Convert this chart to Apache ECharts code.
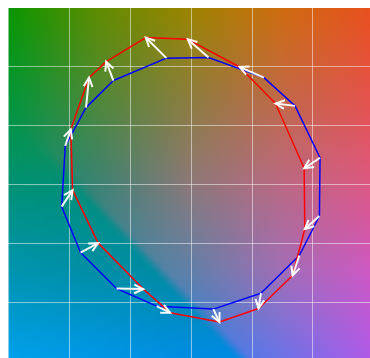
<!DOCTYPE html>
<html><head><meta charset="utf-8">
<script src="https://cdn.jsdelivr.net/npm/echarts@6/dist/echarts.min.js"></script>
<style>html,body{margin:0;padding:0;background:#fff}#c{width:370px;height:358px}</style>
</head><body><div id="c"></div>
<script>
// Blue contour (start points of arrows)
const blueX = [260, 329, 420, 471, 512, 511, 478, 415, 337, 244, 178, 119, 88, 94, 128, 173];
const blueY = [86, 85, 119, 167, 255, 354, 421, 485, 512, 507, 477, 416, 338, 235, 170, 124];
// Red contour (end points of arrows)
const redX = [226, 295, 380, 439, 486, 487, 467, 411, 347, 266, 222, 148, 106, 103, 133, 161];
const redY = [51, 54, 101, 163, 273, 376, 455, 511, 534, 518, 478, 400, 310, 207, 119, 92];
const xMax = 594, yMax = 595, tickStep = 100;

// background colour controls (5x5, rows top->bottom, cols left->right)
const bgMain = [
  [[10,150,0],[95,140,0],[155,132,0],[205,108,15],[232,80,30]],
  [[0,150,55],[80,136,55],[140,125,60],[192,105,70],[228,82,75]],
  [[0,145,115],[60,130,115],[140,120,120],[185,105,130],[220,88,130]],
  [[40,138,160],[55,135,162],[95,128,168],[160,110,182],[205,88,195]],
  [[20,134,228],[30,133,228],[45,130,228],[105,115,232],[175,90,232]]
];
const bgLeft = [
  bgMain[0], bgMain[1],
  [[0,145,115],[0,142,120],[0,140,125],[0,138,128],[0,136,130]],
  [[0,148,175],[0,142,165],[0,138,160],[0,135,162],[0,132,165]],
  [[0,160,235],[0,150,232],[0,140,228],[0,135,228],[0,130,228]]
];

function sample(g, u, v) {
  const gx = u * 4, gy = v * 4;
  const i = Math.min(Math.floor(gx), 3), j = Math.min(Math.floor(gy), 3);
  const fx = gx - i, fy = gy - j;
  const out = [0,0,0];
  for (let k = 0; k < 3; k++) {
    const a = g[j][i][k] * (1 - fx) + g[j][i+1][k] * fx;
    const b = g[j+1][i][k] * (1 - fx) + g[j+1][i+1][k] * fx;
    out[k] = a * (1 - fy) + b * fy;
  }
  return out;
}
const W = 362, H = 351;
const cv = document.createElement('canvas');
cv.width = W; cv.height = H;
const cx = cv.getContext('2d');
const img = cx.createImageData(W, H);
const nx = 175, ny = -167, nn = Math.hypot(nx, ny);
for (let y = 0; y < H; y++) {
  for (let x = 0; x < W; x++) {
    const u = x / (W - 1), v = y / (H - 1);
    const px = x + 8, py = y + 7.5;
    const d = ((px - 73) * nx + (py - 180) * ny) / nn;
    let t = (d + 7) / 14; t = Math.max(0, Math.min(1, t)); t = t * t * (3 - 2 * t);
    const a = sample(bgLeft, u, v), b = sample(bgMain, u, v);
    const o = (y * W + x) * 4;
    img.data[o] = a[0] * (1 - t) + b[0] * t;
    img.data[o+1] = a[1] * (1 - t) + b[1] * t;
    img.data[o+2] = a[2] * (1 - t) + b[2] * t;
    img.data[o+3] = 255;
  }
}
cx.putImageData(img, 0, 0);

const chart = echarts.init(document.getElementById('c'), null, {renderer: 'canvas'});
const closeLoop = (xs, ys) => xs.map((x, i) => [x, ys[i]]).concat([[xs[0], ys[0]]]);
const arrows = blueX.map((x, i) => [x, blueY[i], redX[i], redY[i]]);
chart.setOption({
  animation: false,
  graphic: [{type: 'image', left: 8, top: 7.5, z: -10, silent: true,
    style: {image: cv, width: W, height: H}}],
  grid: {left: 8, top: 7.5, right: 0, bottom: 0},
  xAxis: {type: 'value', min: 0, max: xMax, interval: tickStep,
    axisLine: {show: false}, axisTick: {show: false}, axisLabel: {show: false},
    splitLine: {show: true, showMaxLine: false, lineStyle: {color: 'rgba(255,255,255,0.5)', width: 1}}},
  yAxis: {type: 'value', min: 0, max: yMax, interval: tickStep, inverse: true,
    axisLine: {show: false}, axisTick: {show: false}, axisLabel: {show: false},
    splitLine: {show: true, showMinLine: false, showMaxLine: false, lineStyle: {color: 'rgba(255,255,255,0.5)', width: 1}}},
  series: [
    {type: 'line', data: closeLoop(blueX, blueY), symbol: 'none', z: 3,
      lineStyle: {color: '#0000ff', width: 1.5}},
    {type: 'line', data: closeLoop(redX, redY), symbol: 'none', z: 4,
      lineStyle: {color: '#ff0000', width: 1.5}},
    {type: 'custom', data: arrows, z: 5, silent: true,
      renderItem: function (params, api) {
        const p1 = api.coord([api.value(0), api.value(1)]);
        const p2 = api.coord([api.value(2), api.value(3)]);
        const ang = Math.atan2(p2[1] - p1[1], p2[0] - p1[0]);
        const L = 10, s = 0.45;
        const h1 = [p2[0] - L * Math.cos(ang - s), p2[1] - L * Math.sin(ang - s)];
        const h2 = [p2[0] - L * Math.cos(ang + s), p2[1] - L * Math.sin(ang + s)];
        const st = {stroke: 'rgba(255,255,255,0.95)', lineWidth: 2, fill: null};
        return {type: 'group', children: [
          {type: 'line', shape: {x1: p1[0], y1: p1[1], x2: p2[0], y2: p2[1]}, style: st},
          {type: 'polyline', shape: {points: [h1, p2, h2]}, style: st}
        ]};
      }}
  ]
});
</script></body></html>
